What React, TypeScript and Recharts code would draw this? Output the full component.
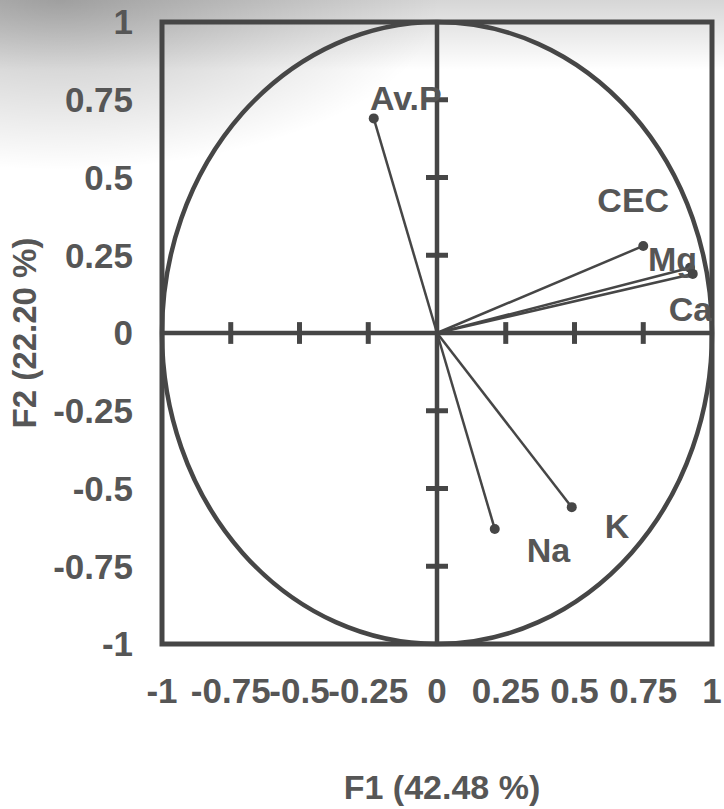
import React from "react";
import {
  ScatterChart,
  Scatter,
  XAxis,
  YAxis,
  ReferenceArea,
  ReferenceLine,
  Label,
} from "recharts";

// Correlation circle: loadings of soil variables on the first two factors
const variables = ["Av.P", "CEC", "Mg", "Ca", "K", "Na"];
const f1Loadings = [-0.23, 0.75, 0.92, 0.93, 0.49, 0.21];
const f2Loadings = [0.69, 0.28, 0.21, 0.19, -0.56, -0.63];
const axisTicks = [-1, -0.75, -0.5, -0.25, 0, 0.25, 0.5, 0.75, 1];
const innerTicks = [-0.75, -0.5, -0.25, 0.25, 0.5, 0.75];
const xTitle = "F1 (42.48 %)";
const yTitle = "F2 (22.20 %)";

const INK = "#464646";
const TEXT = "#565656";
const FONT = "'Liberation Sans', Arial, sans-serif";

// where each variable name sits relative to its point
const labelPlacement: Record<string, { dx: number; dy: number; anchor: "start" | "middle" | "end" }> = {
  "Av.P": { dx: 68, dy: -8, anchor: "end" },
  CEC: { dx: -10, dy: -34, anchor: "middle" },
  Mg: { dx: -42, dy: 3, anchor: "start" },
  Ca: { dx: -24, dy: 47, anchor: "start" },
  K: { dx: 33, dy: 31, anchor: "start" },
  Na: { dx: 32, dy: 33, anchor: "start" },
};

const points = variables.map((name, i) => ({ name, x: f1Loadings[i], y: f2Loadings[i] }));

const CircleFrame = (props: any) => {
  const { x, y, width, height } = props;
  return (
    <g>
      <ellipse
        cx={x + width / 2}
        cy={y + height / 2}
        rx={width / 2}
        ry={height / 2}
        fill="none"
        stroke={INK}
        strokeWidth={4.5}
      />
      <rect x={x} y={y} width={width} height={height} fill="none" stroke={INK} strokeWidth={5} />
    </g>
  );
};

const VariablePoint = (props: any) => {
  const { cx, cy, payload } = props;
  const p = labelPlacement[payload.name];
  return (
    <g>
      <circle cx={cx} cy={cy} r={5} fill={INK} />
      <text
        x={cx + p.dx}
        y={cy + p.dy}
        textAnchor={p.anchor}
        fontFamily={FONT}
        fontWeight={700}
        fontSize={34}
        fill={TEXT}
      >
        {payload.name}
      </text>
    </g>
  );
};

const tickStyle = { fontSize: 35, fontWeight: 700, fill: TEXT, fontFamily: FONT };

export default function App() {
  return (
    <div
      style={{
        width: 724,
        height: 809,
        position: "relative",
        overflow: "hidden",
        background:
          "radial-gradient(ellipse 380px 170px at 60px 0px, rgba(0,0,0,0.26), rgba(0,0,0,0) 100%), linear-gradient(to bottom, rgba(0,0,0,0.16) 0px, rgba(0,0,0,0) 70px), #ffffff",
      }}
    >
      <style>{`html,body{margin:0;padding:0;overflow:hidden;}`}</style>
      <ScatterChart
        width={724}
        height={809}
        margin={{ top: 22, right: 12, bottom: 0, left: 0 }}
      >
        <XAxis
          type="number"
          dataKey="x"
          domain={[-1, 1]}
          ticks={axisTicks}
          allowDataOverflow
          axisLine={false}
          tickLine={false}
          tickSize={0}
          tickMargin={34}
          interval={0}
          height={165}
          tick={tickStyle}
        >
          <Label
            content={(lp: any) => {
              const vb = lp.viewBox;
              return (
                <text
                  x={vb.x + vb.width / 2 + 5}
                  y={799}
                  textAnchor="middle"
                  fontFamily={FONT}
                  fontWeight={700}
                  fontSize={34}
                  fill={TEXT}
                >
                  {xTitle}
                </text>
              );
            }}
          />
        </XAxis>
        <YAxis
          type="number"
          dataKey="y"
          domain={[-1, 1]}
          ticks={axisTicks}
          allowDataOverflow
          axisLine={false}
          tickLine={false}
          tickSize={0}
          tickMargin={29}
          interval={0}
          width={162}
          tick={tickStyle}
        >
          <Label
            content={(lp: any) => {
              const vb = lp.viewBox;
              const cy = vb.y + vb.height / 2;
              return (
                <text
                  x={36}
                  y={cy}
                  transform={`rotate(-90 36 ${cy})`}
                  textAnchor="middle"
                  fontFamily={FONT}
                  fontWeight={700}
                  fontSize={33}
                  fill={TEXT}
                >
                  {yTitle}
                </text>
              );
            }}
          />
        </YAxis>

        <ReferenceArea x1={-1} x2={1} y1={-1} y2={1} ifOverflow="visible" shape={CircleFrame} />
        <ReferenceLine x={0} stroke={INK} strokeWidth={4.5} />
        <ReferenceLine y={0} stroke={INK} strokeWidth={4.5} />
        {innerTicks.map((t) => (
          <ReferenceLine
            key={`xt${t}`}
            segment={[
              { x: t, y: -0.035 },
              { x: t, y: 0.035 },
            ]}
            stroke={INK}
            strokeWidth={5}
          />
        ))}
        {innerTicks.map((t) => (
          <ReferenceLine
            key={`yt${t}`}
            segment={[
              { x: -0.04, y: t },
              { x: 0.04, y: t },
            ]}
            stroke={INK}
            strokeWidth={5}
          />
        ))}
        {points.map((p) => (
          <ReferenceLine
            key={`v${p.name}`}
            segment={[
              { x: 0, y: 0 },
              { x: p.x, y: p.y },
            ]}
            stroke={INK}
            strokeWidth={2.5}
          />
        ))}
        <Scatter data={points} isAnimationActive={false} shape={VariablePoint} />
      </ScatterChart>
    </div>
  );
}
